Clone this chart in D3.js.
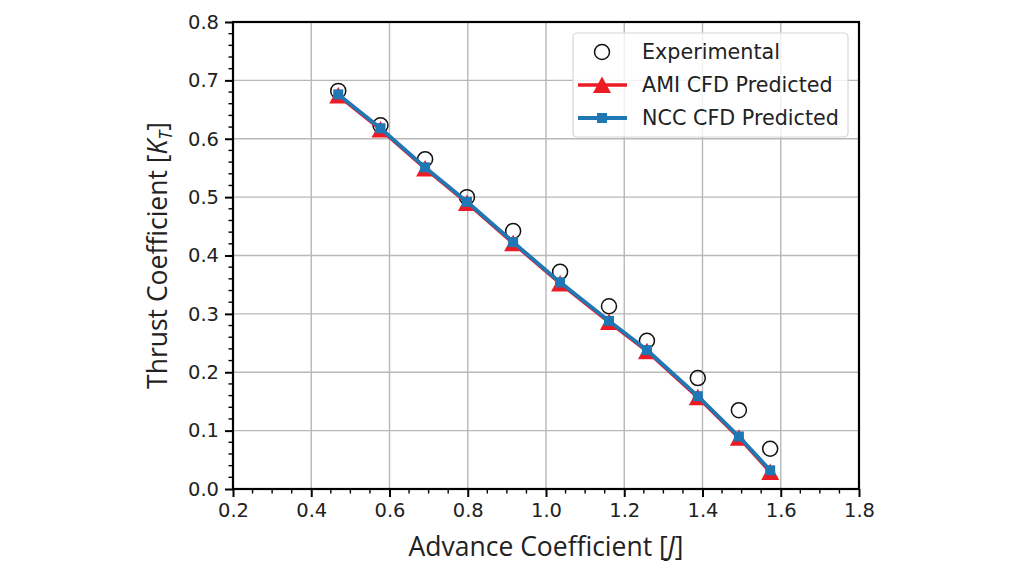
<!DOCTYPE html>
<html>
<head>
<meta charset="utf-8">
<script src="https://cdn.jsdelivr.net/npm/d3@7"></script>
<style>
  body { margin: 0; background: #fff; }
  svg { display: block; }
</style>
</head>
<body>
<div id="screen"></div>
<script>
var width = 1024;
var height = 576;
var margin = {left: 233, right: 165, top: 22, bottom: 87};

// advance coefficient J
var advanceJ = [0.469, 0.577, 0.691, 0.798, 0.916, 1.036, 1.161, 1.258, 1.388, 1.493, 1.573];
// thrust coefficient KT
var expKT = [0.682, 0.623, 0.565, 0.500, 0.442, 0.372, 0.313, 0.254, 0.190, 0.135, 0.069];
var amiKT = [0.674, 0.616, 0.549, 0.490, 0.421, 0.352, 0.286, 0.236, 0.157, 0.088, 0.029];
var nccKT = [0.676, 0.618, 0.551, 0.492, 0.423, 0.354, 0.288, 0.238, 0.159, 0.090, 0.032];

var xTicks = [0.2, 0.4, 0.6, 0.8, 1.0, 1.2, 1.4, 1.6, 1.8];
var yTicks = [0.0, 0.1, 0.2, 0.3, 0.4, 0.5, 0.6, 0.7, 0.8];
var seriesNames = ["Experimental", "AMI CFD Predicted", "NCC CFD Predicted"];

var red = "#ec1c24";
var blue = "#1f77b4";
var tickFont = "'DejaVu Sans', sans-serif";
var labelFont = "'Open Sans', sans-serif";

var x = d3.scaleLinear().domain([0.2, 1.8]).range([margin.left, width - margin.right]);
var y = d3.scaleLinear().domain([0, 0.8]).range([height - margin.bottom, margin.top]);

var svg = d3.select("#screen").append("svg")
  .attr("width", width).attr("height", height);

// grid
svg.append("g").selectAll("line").data(xTicks.slice(1, -1)).enter().append("line")
  .attr("x1", function(d){ return x(d); }).attr("x2", function(d){ return x(d); })
  .attr("y1", y(0)).attr("y2", y(0.8))
  .attr("stroke", "#b8b8b8").attr("stroke-width", 1.4);
svg.append("g").selectAll("line").data(yTicks.slice(1, -1)).enter().append("line")
  .attr("y1", function(d){ return y(d); }).attr("y2", function(d){ return y(d); })
  .attr("x1", x(0.2)).attr("x2", x(1.8))
  .attr("stroke", "#b8b8b8").attr("stroke-width", 1.4);

// minor ticks
var xMinor = d3.range(0.25, 1.8, 0.05).filter(function(d){ return Math.abs(d*10 - Math.round(d*10)) > 0.01 || Math.round(d*10) % 2 == 1; });
var yMinor = d3.range(0.02, 0.8, 0.02).filter(function(d){ return Math.abs(d*10 - Math.round(d*10)) > 0.01; });
svg.append("g").selectAll("line").data(xMinor).enter().append("line")
  .attr("x1", function(d){ return x(d); }).attr("x2", function(d){ return x(d); })
  .attr("y1", y(0)).attr("y2", y(0) + 4.5)
  .attr("stroke", "#000").attr("stroke-width", 1.4);
svg.append("g").selectAll("line").data(yMinor).enter().append("line")
  .attr("y1", function(d){ return y(d); }).attr("y2", function(d){ return y(d); })
  .attr("x1", x(0.2)).attr("x2", x(0.2) - 4.5)
  .attr("stroke", "#000").attr("stroke-width", 1.4);

// axes
var xAxis = d3.axisBottom(x).tickValues(xTicks).tickFormat(d3.format(".1f")).tickSize(8).tickPadding(6);
var xAxisSpr = svg.append("g").attr("transform", "translate(0," + y(0) + ")").call(xAxis);
var yAxis = d3.axisLeft(y).tickValues(yTicks).tickFormat(d3.format(".1f")).tickSize(8).tickPadding(6);
var yAxisSpr = svg.append("g").attr("transform", "translate(" + x(0.2) + ",0)").call(yAxis);
[xAxisSpr, yAxisSpr].forEach(function(g){
  g.select(".domain").remove();
  g.selectAll(".tick line").attr("stroke", "#000").attr("stroke-width", 2);
  g.selectAll(".tick text").attr("fill", "#222").style("font-family", tickFont).style("font-size", "19.5px");
});

// frame
svg.append("rect")
  .attr("x", x(0.2)).attr("y", y(0.8))
  .attr("width", x(1.8) - x(0.2)).attr("height", y(0) - y(0.8))
  .attr("fill", "none").attr("stroke", "#000").attr("stroke-width", 2.2);

// series
var lineGen = d3.line()
  .x(function(d){ return x(d[0]); })
  .y(function(d){ return y(d[1]); });

var expData = d3.zip(advanceJ, expKT);
var amiData = d3.zip(advanceJ, amiKT);
var nccData = d3.zip(advanceJ, nccKT);

svg.append("g").selectAll("circle").data(expData).enter().append("circle")
  .attr("cx", function(d){ return x(d[0]); })
  .attr("cy", function(d){ return y(d[1]); })
  .attr("r", 7.5)
  .attr("fill", "none").attr("stroke", "#111").attr("stroke-width", 1.5);

svg.append("path").datum(amiData)
  .attr("d", lineGen).attr("fill", "none").attr("stroke", red).attr("stroke-width", 3.5);
svg.append("g").selectAll("path").data(amiData).enter().append("path")
  .attr("d", "M0,-8.5L9,8L-9,8Z")
  .attr("transform", function(d){ return "translate(" + x(d[0]) + "," + y(d[1]) + ")"; })
  .attr("fill", red);

svg.append("path").datum(nccData)
  .attr("d", lineGen).attr("fill", "none").attr("stroke", blue).attr("stroke-width", 3.8);
svg.append("g").selectAll("rect").data(nccData).enter().append("rect")
  .attr("x", function(d){ return x(d[0]) - 5; })
  .attr("y", function(d){ return y(d[1]) - 5; })
  .attr("width", 10).attr("height", 10)
  .attr("fill", blue);

// axis labels
svg.append("text")
  .attr("x", (x(0.2) + x(1.8)) / 2).attr("y", 556)
  .attr("text-anchor", "middle")
  .style("font-family", labelFont).style("font-size", "26.5px").attr("fill", "#222")
  .html("Advance Coefficient [<tspan font-style='italic'>J</tspan>]");

var yl = svg.append("text")
  .attr("transform", "translate(167," + ((y(0) + y(0.8)) / 2) + ") rotate(-90)")
  .attr("text-anchor", "middle")
  .style("font-family", labelFont).style("font-size", "26.5px").attr("fill", "#222");
yl.append("tspan").text("Thrust Coefficient [");
yl.append("tspan").attr("font-style", "italic").text("K");
yl.append("tspan").attr("font-style", "italic").attr("font-size", "18px").attr("dy", 5).text("T");
yl.append("tspan").attr("dy", -5).text("]");

// legend
var legend = svg.append("g");
legend.append("rect")
  .attr("x", 573).attr("y", 33).attr("width", 275).attr("height", 104).attr("rx", 4)
  .attr("fill", "#fff").attr("fill-opacity", 0.8)
  .attr("stroke", "#d6d6d6").attr("stroke-width", 1.2);
var rowY = [52, 85, 118];
legend.append("circle").attr("cx", 602).attr("cy", rowY[0]).attr("r", 7.5)
  .attr("fill", "none").attr("stroke", "#111").attr("stroke-width", 1.5);
legend.append("line").attr("x1", 578).attr("x2", 627).attr("y1", rowY[1]).attr("y2", rowY[1])
  .attr("stroke", red).attr("stroke-width", 3.5);
legend.append("path").attr("d", "M0,-8.5L9,8L-9,8Z")
  .attr("transform", "translate(602," + rowY[1] + ")").attr("fill", red);
legend.append("line").attr("x1", 578).attr("x2", 627).attr("y1", rowY[2]).attr("y2", rowY[2])
  .attr("stroke", blue).attr("stroke-width", 3.8);
legend.append("rect").attr("x", 597).attr("y", rowY[2] - 5).attr("width", 10).attr("height", 10)
  .attr("fill", blue);
legend.selectAll("text").data(seriesNames).enter().append("text")
  .attr("x", 642).attr("y", function(d, i){ return rowY[i]; })
  .attr("dy", "0.35em")
  .style("font-family", tickFont).style("font-size", "20.7px").attr("fill", "#222")
  .text(function(d){ return d; });
</script>
</body>
</html>
